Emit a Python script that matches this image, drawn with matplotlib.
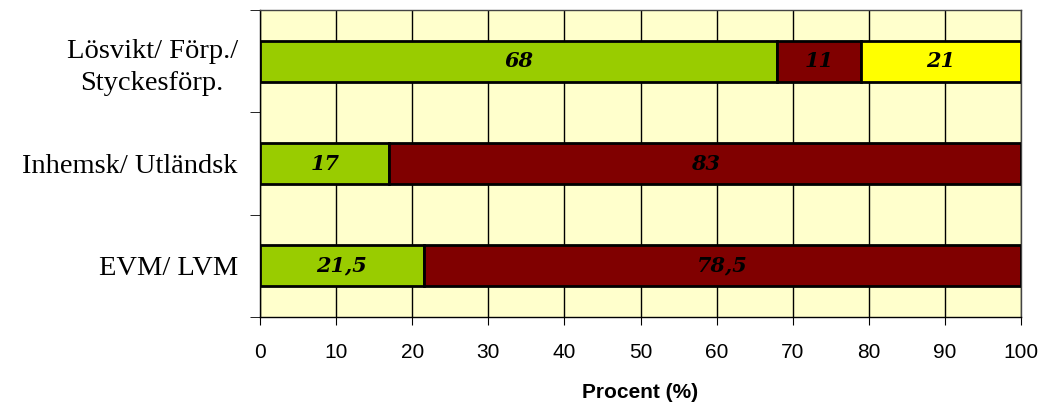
import matplotlib.pyplot as plt
from matplotlib.ticker import FixedLocator, NullFormatter

categories = ['EVM/ LVM', 'Inhemsk/ Utländsk', 'Lösvikt/ Förp./\nStyckesförp.']
seg1 = [21.5, 17, 68]
seg2 = [78.5, 83, 11]
seg3 = [0, 0, 21]
seg_labels = [['21,5', '78,5', None], ['17', '83', None], ['68', '11', '21']]
colors = ['#99CC00', '#800000', '#FFFF00']

fig = plt.figure(figsize=(10.41, 4.05), dpi=100)
ax = fig.add_axes([260 / 1041, 1 - 317 / 405, 761 / 1041, 307 / 405])
ax.set_facecolor('#FFFFCC')

y = list(range(len(categories)))
left = [0] * len(categories)
for vals, col, k in zip([seg1, seg2, seg3], colors, range(3)):
    for i in y:
        if vals[i] <= 0:
            continue
        ax.barh(i, vals[i], left=left[i], height=0.4, color=col,
                edgecolor='black', linewidth=2, zorder=3)
        txt = seg_labels[i][k]
        if txt:
            ax.text(left[i] + vals[i] / 2, i, txt, ha='center', va='center',
                    family='DejaVu Serif', style='italic', weight='bold',
                    fontsize=15, color='black', zorder=4)
        left[i] += vals[i]

ax.set_xlim(0, 100)
ax.set_ylim(-0.5, 2.5)
ax.set_xticks(range(0, 101, 10))
ax.tick_params(axis='x', labelsize=15, length=6, direction='out', pad=13)
for lbl in ax.get_xticklabels():
    lbl.set_family('Liberation Sans')
ax.xaxis.grid(True, color='black', linewidth=1, zorder=0)
ax.set_axisbelow(True)

ax.set_yticks(y)
ax.set_yticklabels(categories, family='Liberation Serif', fontsize=20.5,
                   linespacing=1.35)
for lbl in ax.get_yticklabels():
    lbl.set_multialignment('center')
ax.tick_params(axis='y', length=0, pad=16)
ax.yaxis.set_minor_locator(FixedLocator([-0.5, 0.5, 1.5, 2.5]))
ax.yaxis.set_minor_formatter(NullFormatter())
ax.tick_params(axis='y', which='minor', length=7, direction='out')

for s in ax.spines.values():
    s.set_color('#444444')
    s.set_linewidth(1)
ax.spines['left'].set_color('black')
ax.spines['bottom'].set_color('black')

ax.set_xlabel('Procent (%)', family='Liberation Sans', weight='bold',
              fontsize=15, labelpad=15)

fig.savefig('out.png', dpi=100)
